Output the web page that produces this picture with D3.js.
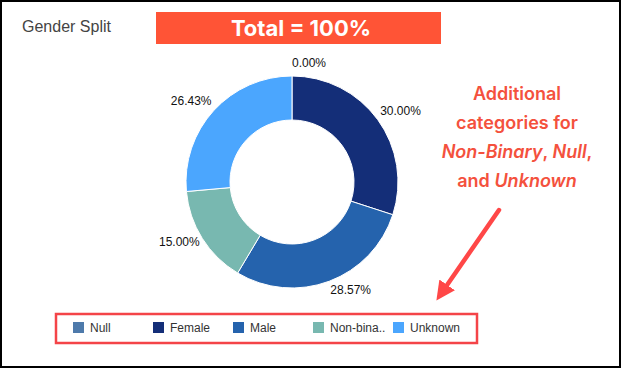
<!DOCTYPE html>
<html>
<head>
<meta charset="utf-8">
<script src="https://cdn.jsdelivr.net/npm/d3@7"></script>
<style>
  html, body { margin: 0; padding: 0; background: #fff; }
  svg { display: block; }
</style>
</head>
<body>
<svg id="chart" width="621" height="368"></svg>
<script>
// gender split data
const categories = ["Null", "Female", "Male", "Non-binary", "Unknown"];
const shares = [0.0, 30.0, 28.57, 15.0, 26.43];
const colors = ["#4e7aab", "#142e78", "#2563ad", "#78b8b0", "#4ba6fe"];
const noteLines = [
  [{ t: "Additional", i: false }],
  [{ t: "categories for", i: false }],
  [{ t: "Non-Binary", i: true }, { t: ", ", i: false }, { t: "Null", i: true }, { t: ",", i: false }],
  [{ t: "and ", i: false }, { t: "Unknown", i: true }],
];

const W = 621, H = 368;
const svg = d3.select("#chart");

// outer frame
svg.append("rect")
  .attr("x", 1).attr("y", 1).attr("width", W - 2).attr("height", H - 2)
  .attr("fill", "#fff").attr("stroke", "#000").attr("stroke-width", 2);

svg.append("text")
  .attr("x", 22).attr("y", 32)
  .attr("font-family", "Liberation Sans, Arial, sans-serif")
  .attr("font-size", 16)
  .attr("fill", "#444")
  .text("Gender Split");

// banner
svg.append("rect")
  .attr("x", 156).attr("y", 12).attr("width", 285).attr("height", 32)
  .attr("fill", "#ff5436");
svg.append("text")
  .attr("x", 301).attr("y", 36)
  .attr("text-anchor", "middle")
  .attr("font-family", "Inter, sans-serif")
  .attr("font-weight", 700)
  .attr("font-size", 22)
  .attr("fill", "#fff")
  .text("Total = 100%");

// donut
const cx = 292, cy = 182, rOuter = 106, rInner = 62;
const pie = d3.pie().sort(null).value(d => d)(shares);
const arc = d3.arc().innerRadius(rInner).outerRadius(rOuter);
const g = svg.append("g").attr("transform", `translate(${cx},${cy})`);

g.selectAll("path")
  .data(pie)
  .join("path")
  .attr("d", arc)
  .attr("fill", (d, i) => colors[i])
  .attr("stroke", "#fff")
  .attr("stroke-width", 1);

const fmt = d3.format(".2f");
g.selectAll("text.lbl")
  .data(pie)
  .join("text")
  .attr("class", "lbl")
  .each(function (d) {
    const a = (d.startAngle + d.endAngle) / 2;
    const s = Math.sin(a), c = Math.cos(a);
    d3.select(this)
      .attr("x", s * 109)
      .attr("y", -c * 117 - 2)
      .attr("dy", "0.35em")
      .attr("text-anchor", s >= -1e-6 ? "start" : "end");
  })
  .attr("font-family", "Liberation Sans, Arial, sans-serif")
  .attr("font-size", 12)
  .attr("fill", "#111")
  .text(d => fmt(d.data) + "%");

// annotation
const note = svg.append("g")
  .attr("font-family", "Inter, sans-serif")
  .attr("font-weight", 600)
  .attr("font-size", 18)
  .attr("fill", "#f4513d");
const lineY = [100, 129, 158, 187];
noteLines.forEach((parts, k) => {
  const t = note.append("text")
    .attr("x", 517).attr("y", lineY[k])
    .attr("text-anchor", "middle");
  parts.forEach(p => {
    t.append("tspan")
      .attr("font-style", p.i ? "italic" : "normal")
      .text(p.t);
  });
});

// arrow
svg.append("defs").append("marker")
  .attr("id", "head")
  .attr("viewBox", "0 0 10 10")
  .attr("refX", 2).attr("refY", 5)
  .attr("markerWidth", 4.2).attr("markerHeight", 4.2)
  .attr("orient", "auto")
  .append("path")
  .attr("d", "M0,0 L10,5 L0,10 Z")
  .attr("fill", "#ff4747");
svg.append("line")
  .attr("x1", 499).attr("y1", 210)
  .attr("x2", 445).attr("y2", 288)
  .attr("stroke", "#ff4747")
  .attr("stroke-width", 4.5)
  .attr("stroke-linecap", "round")
  .attr("marker-end", "url(#head)");

// legend
svg.append("rect")
  .attr("x", 56).attr("y", 314).attr("width", 421).attr("height", 29)
  .attr("fill", "none")
  .attr("stroke", "#f44448")
  .attr("stroke-width", 2.5);

const legend = svg.append("g")
  .attr("font-family", "Liberation Sans, Arial, sans-serif")
  .attr("font-size", 12)
  .attr("fill", "#333");
const item = legend.selectAll("g")
  .data(categories)
  .join("g")
  .attr("transform", (d, i) => `translate(${73 + i * 80},322)`);
item.append("rect")
  .attr("width", 11).attr("height", 11)
  .attr("fill", (d, i) => colors[i]);
item.append("text")
  .attr("x", 17).attr("y", 9.5)
  .text(d => d)
  .each(function () {
    // truncate long names like the original legend
    const el = d3.select(this);
    let s = el.text();
    if (this.getComputedTextLength() > 58) {
      while (s.length > 1 && this.getComputedTextLength() > 58) {
        s = s.slice(0, -1);
        el.text(s + "..");
      }
    }
  });
</script>
</body>
</html>
